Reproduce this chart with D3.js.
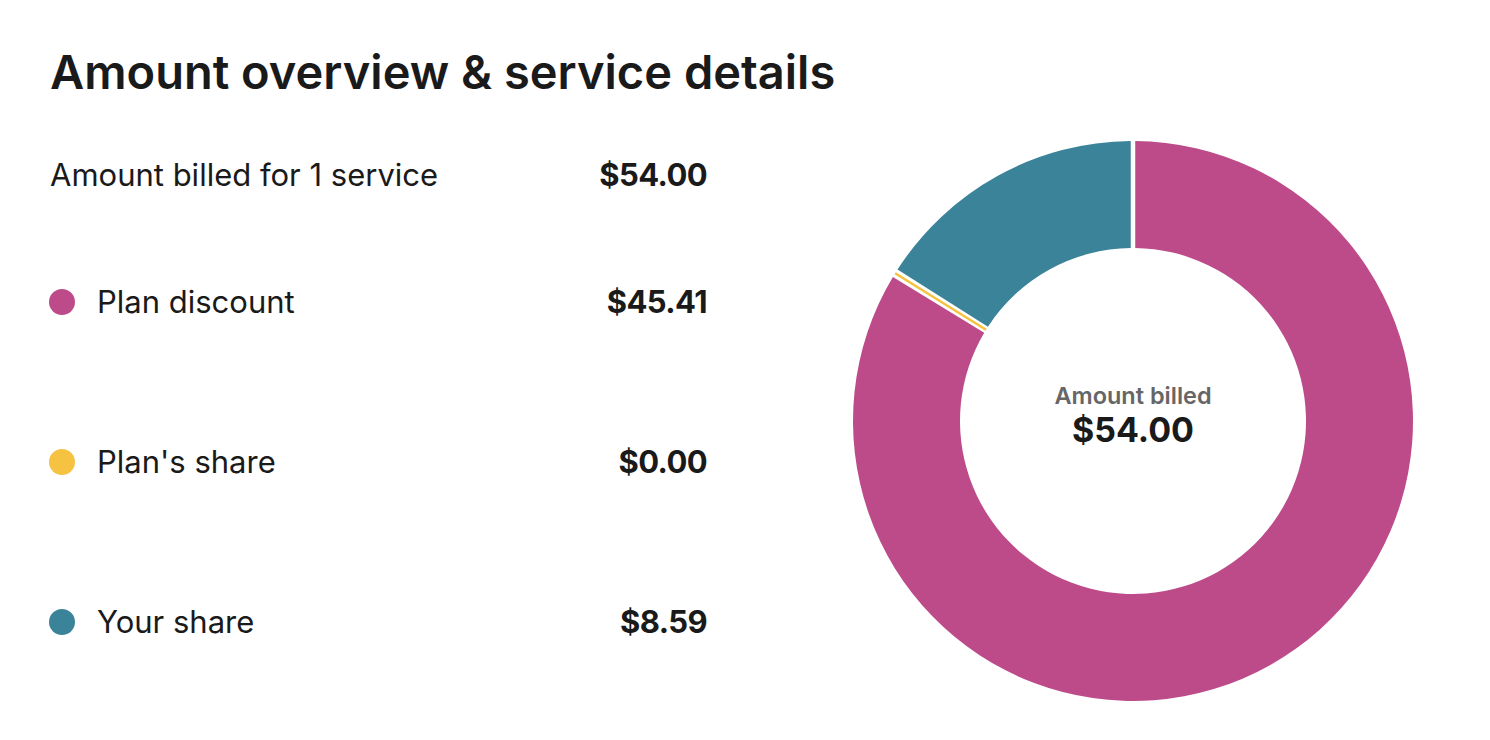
<html>
<head>
<script src="https://cdn.jsdelivr.net/npm/d3@7/dist/d3.min.js"></script>
<style>
  body { margin: 0; background: #fff; }
  text { font-family: Inter, "Noto Sans", sans-serif; fill: #1a1a1a; }
</style>
</head>
<body>
<svg width="1490" height="740"></svg>
<script>
// data
var title = 'Amount overview & service details'
var totalLabel = 'Amount billed for 1 service'
var totalValue = 54.00
var categories = ['Plan discount', "Plan's share", 'Your share']
var amounts = [45.41, 0.00, 8.59]
var colors = ['#bd4b8a', '#f5c242', '#3b8399']

var svg = d3.select('svg')
var fmt = function(v){ return '$' + d3.format(',.2f')(v) }

svg.append('text')
  .attr('x', 50).attr('y', 89)
  .attr('font-size', 47).attr('font-weight', 600)
  .text(title)

// left list
var left = 50, right = 707

svg.append('text')
  .attr('x', left).attr('y', 186)
  .attr('font-size', 31)
  .text(totalLabel)
svg.append('text')
  .attr('x', right).attr('y', 186)
  .attr('text-anchor', 'end')
  .attr('font-size', 31).attr('font-weight', 700).attr('letter-spacing', -0.6)
  .text(fmt(totalValue))

var y = d3.scalePoint().domain(categories).range([302, 622])

var rows = svg.selectAll('g.row')
  .data(categories)
  .enter()
  .append('g')
  .attr('class', 'row')
  .attr('transform', function(d){ return 'translate(0,' + y(d) + ')' })

rows.append('circle')
  .attr('cx', 62).attr('r', 13)
  .attr('fill', function(d,i){ return colors[i] })
rows.append('text')
  .attr('x', 97).attr('dy', 11)
  .attr('font-size', 31)
  .text(function(d){ return d })
rows.append('text')
  .attr('x', right).attr('dy', 11)
  .attr('text-anchor', 'end')
  .attr('font-size', 31).attr('font-weight', 700).attr('letter-spacing', -0.6)
  .text(function(d,i){ return fmt(amounts[i]) })

// donut
var cx = 1133, cy = 421
var pie = d3.pie().sort(null).padAngle(0.015)
var arc = d3.arc().innerRadius(173).outerRadius(280).padRadius(300)

var donut = svg.append('g').attr('transform', 'translate(' + cx + ',' + cy + ')')

donut.selectAll('path')
  .data(pie(amounts))
  .enter()
  .append('path')
  .attr('d', arc)
  .attr('fill', function(d,i){ return colors[i] })
  // zero amounts collapse to a line, so draw it as a thin stroke
  .attr('stroke', function(d,i){ return d.value === 0 ? colors[i] : 'none' })
  .attr('stroke-width', 2.5)

donut.append('text')
  .attr('y', -17)
  .attr('text-anchor', 'middle')
  .attr('font-size', 23.5).attr('font-weight', 600)
  .style('fill', '#666')
  .text('Amount billed')
donut.append('text')
  .attr('y', 21)
  .attr('text-anchor', 'middle')
  .attr('font-size', 34).attr('font-weight', 700)
  .text(fmt(totalValue))
</script>
</body>
</html>
